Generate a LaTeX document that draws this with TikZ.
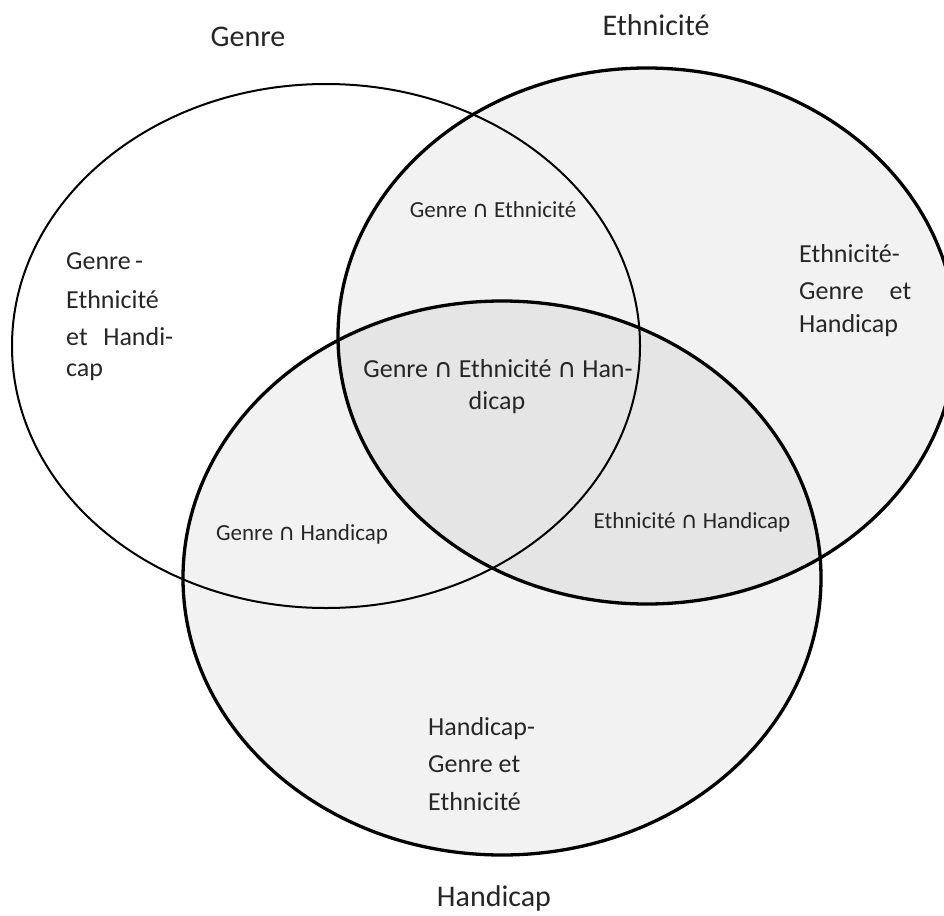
\documentclass[tikz,border=0pt]{standalone}
\usepackage{fontspec}
\setmainfont{Carlito}
\newfontfamily\capfont{DejaVu Sans}
\newcommand{\inter}{{\capfont ∩}}
\begin{document}
\begin{tikzpicture}[x=1pt,y=-1pt,
  txt/.style={text=black!85, inner sep=0pt, anchor=base},
  txtl/.style={text=black!85, inner sep=0pt, anchor=base west},
  title/.style={txt, font=\fontsize{30}{36}\selectfont},
  lab/.style={txt, font=\fontsize{26}{31}\selectfont},
  labl/.style={txtl, font=\fontsize{26}{31}\selectfont},
  small/.style={txt, font=\fontsize{23}{28}\selectfont},
  shade/.style={fill=black, fill opacity=0.05},
  thin/.style={draw=black, line width=2pt},
  thick/.style={draw=black, line width=3.3pt}]
\useasboundingbox (0,0) rectangle (944,915);
\clip (0,0) rectangle (944,915);
\fill[white] (0,0) rectangle (944,915);
% fills
\path[shade] (647,336) ellipse [x radius=309pt, y radius=268pt];
\path[shade] (502,578) ellipse [x radius=319pt, y radius=277pt];
% outlines
\path[thin] (326,346) ellipse [x radius=314pt, y radius=262pt];
\path[thick] (647,336) ellipse [x radius=309pt, y radius=268pt];
\path[thick] (502,578) ellipse [x radius=319pt, y radius=277pt];
% titles
\node[title] (tg) at (248,47) {Genre};
\node[title] (te) at (656,36) {Ethnicité};
\node[title] (th) at (494,906) {Handicap};
% intersections
\node[small] (ge) at (493,217) {Genre \inter{} Ethnicité};
\node[lab] (geh1) at (498,377) {Genre \inter{} Ethnicité \inter{} Han-};
\node[lab] (geh2) at (497,409) {dicap};
\node[small] (gh) at (302,540) {Genre \inter{} Handicap};
\node[small] (eh) at (692,528) {Ethnicité \inter{} Handicap};
% left label
\node[labl] (l1) at (66,269) {Genre\,-};
\node[labl] (l2) at (66,308) {Ethnicité};
\node[labl] (l3) at (66,345) {\hbox to 107pt{et\hfill Handi-}};
\node[labl] (l4) at (66,376) {cap};
% right label
\node[labl] (r1) at (799,262) {Ethnicité-};
\node[labl] (r2) at (799,299) {\hbox to 112pt{Genre\hfill et}};
\node[labl] (r3) at (799,332) {Handicap};
% bottom label
\node[labl] (b1) at (428,735) {Handicap-};
\node[labl] (b2) at (428,772) {Genre et};
\node[labl] (b3) at (428,810) {Ethnicité};
\end{tikzpicture}
\end{document}
